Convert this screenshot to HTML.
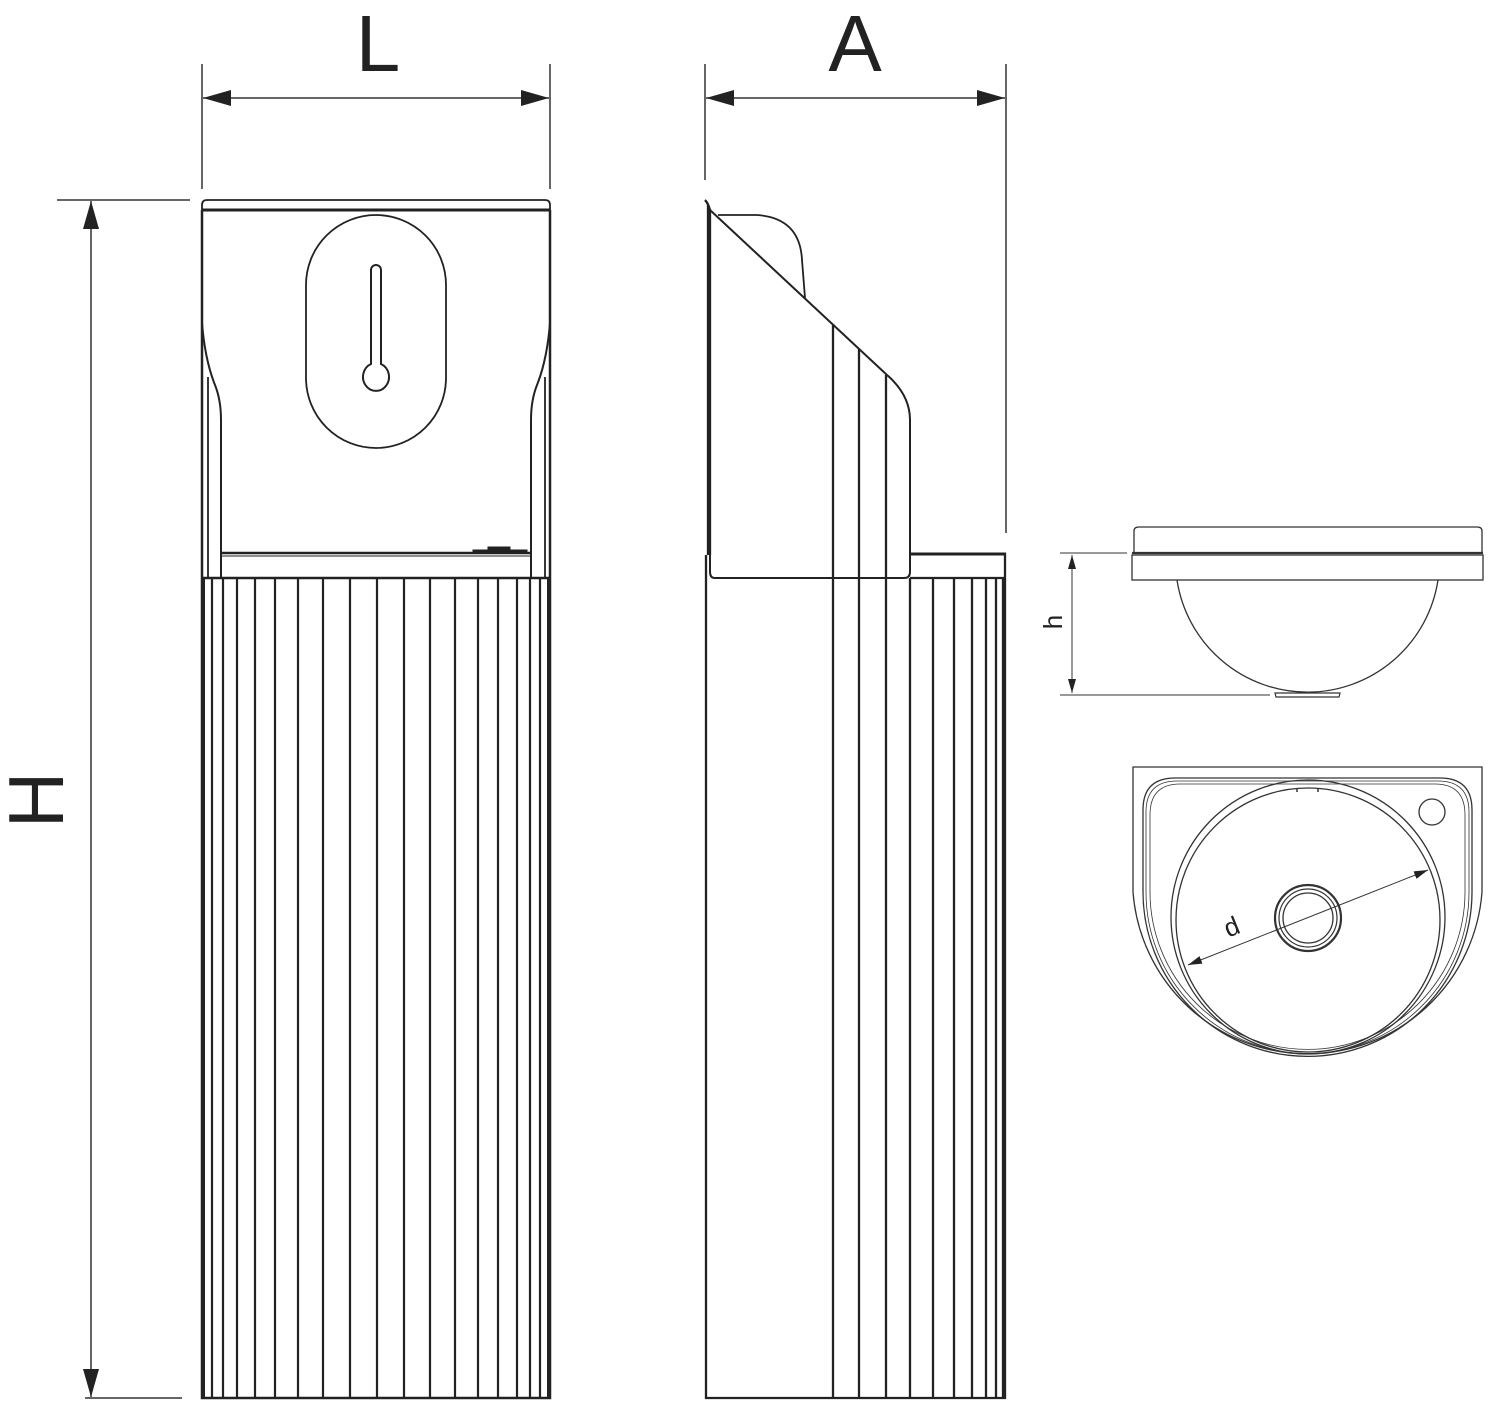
<!DOCTYPE html>
<html><head><meta charset="utf-8"><style>
html,body{margin:0;padding:0;background:#fff;}
svg{display:block;}
text{font-family:"Liberation Sans",sans-serif;fill:#222;}
</style></head><body>
<svg width="1500" height="1417" viewBox="0 0 1500 1417" xmlns="http://www.w3.org/2000/svg">
<defs>
<marker id="ar" viewBox="0 0 28 16" refX="28" refY="8" markerWidth="28" markerHeight="16" markerUnits="userSpaceOnUse" orient="auto-start-reverse"><path d="M0,0 L28,8 L0,16 Z" fill="#222"/></marker>
<marker id="as" viewBox="0 0 14 8" refX="14" refY="4" markerWidth="14" markerHeight="8" markerUnits="userSpaceOnUse" orient="auto-start-reverse"><path d="M0,0 L14,4 L0,8 Z" fill="#222"/></marker>
</defs>
<g stroke="#333" fill="none">
<line x1="202" y1="64" x2="202" y2="189" stroke-width="1.5"/>
<line x1="550" y1="64" x2="550" y2="189" stroke-width="1.5"/>
<line x1="203" y1="98" x2="549" y2="98" stroke-width="1.5" marker-start="url(#ar)" marker-end="url(#ar)"/>
<line x1="705" y1="64" x2="705" y2="180" stroke-width="1.5"/>
<line x1="1006" y1="64" x2="1006" y2="533" stroke-width="1.5"/>
<line x1="706" y1="98" x2="1005" y2="98" stroke-width="1.5" marker-start="url(#ar)" marker-end="url(#ar)"/>
<line x1="57" y1="200" x2="190" y2="200" stroke-width="1.5"/>
<line x1="85" y1="1398" x2="182" y2="1398" stroke-width="1.5"/>
<line x1="91" y1="201" x2="91" y2="1397" stroke-width="1.5" marker-start="url(#ar)" marker-end="url(#ar)"/>

<g stroke="#222" stroke-width="2.5">
<path d="M202,210 L202,205 Q202,200 207,200 L545,200 Q550,200 550,205 L550,210" stroke-width="1.8"/>
<line x1="202" y1="210" x2="550" y2="210" stroke-width="3"/>
<path d="M202,210 L202,1398 L550,1398 L550,210"/>
<path d="M202,323 Q205,360 215,385 Q221,400 221,420 L221,577" stroke-width="2"/>
<path d="M550,323 Q547,360 537,385 Q531,400 531,420 L531,577" stroke-width="2"/>
<line x1="208" y1="377" x2="208" y2="577" stroke-width="1.8"/>
<line x1="545" y1="377" x2="545" y2="577" stroke-width="1.8"/>
<line x1="221" y1="553" x2="531" y2="553" stroke-width="2.5"/>
<line x1="221" y1="556" x2="531" y2="556" stroke-width="1"/>
<path d="M473,553 L473,550 L527,550 L527,553 Z M488,550 L488,547 L510,547 L510,550" fill="#222" stroke-width="1"/>
<line x1="202" y1="578" x2="550" y2="578" stroke-width="2.5"/>
<rect x="306" y="215" width="140" height="233" rx="70" ry="70" stroke-width="1.8"/>
<path d="M371,364 L371,270 A5,5 0 0 1 381,270 L381,364 A13,14 0 1 1 371,364 Z" stroke-width="2"/>
</g>
<g stroke="#222" stroke-width="2.2">
<line x1="212" y1="578" x2="212" y2="1398"/>
<line x1="223" y1="578" x2="223" y2="1398"/>
<line x1="237" y1="578" x2="237" y2="1398"/>
<line x1="255" y1="578" x2="255" y2="1398"/>
<line x1="275" y1="578" x2="275" y2="1398"/>
<line x1="298" y1="578" x2="298" y2="1398"/>
<line x1="323" y1="578" x2="323" y2="1398"/>
<line x1="350" y1="578" x2="350" y2="1398"/>
<line x1="377" y1="578" x2="377" y2="1398"/>
<line x1="404" y1="578" x2="404" y2="1398"/>
<line x1="430" y1="578" x2="430" y2="1398"/>
<line x1="455" y1="578" x2="455" y2="1398"/>
<line x1="478" y1="578" x2="478" y2="1398"/>
<line x1="498" y1="578" x2="498" y2="1398"/>
<line x1="517" y1="578" x2="517" y2="1398"/>
<line x1="530" y1="578" x2="530" y2="1398"/>
<line x1="540" y1="578" x2="540" y2="1398"/>
</g>
<line x1="203" y1="578" x2="203" y2="1398" stroke="#222" stroke-width="4"/>
<line x1="549" y1="578" x2="549" y2="1398" stroke="#222" stroke-width="4"/>

<g stroke="#222" stroke-width="2.3">
<path d="M705,200 Q708,203 710,210 L710,555"/>
<line x1="708" y1="205" x2="708" y2="555"/>
<path d="M706,555 L706,1398 L1005,1398 L1005,554 L911,554"/>
<line x1="911" y1="554" x2="1006" y2="554" stroke-width="3"/>
<line x1="710" y1="210" x2="887" y2="375" stroke-width="2"/>
<path d="M887,375 Q910,395 910,420 L910,572 Q910,578 904,578 L715,578 Q710,578 710,572 L710,555" stroke-width="2"/>
<path d="M718,215 L757,215 Q800,218 802,260 L805,298" stroke-width="1.8"/>
<line x1="833" y1="324" x2="833" y2="1398"/>
<line x1="859" y1="349" x2="859" y2="1398"/>
<line x1="886" y1="375" x2="886" y2="1398"/>
<line x1="910" y1="578" x2="910" y2="1398"/>
<line x1="933" y1="578" x2="933" y2="1398"/>
<line x1="954" y1="578" x2="954" y2="1398"/>
<line x1="972" y1="578" x2="972" y2="1398"/>
<line x1="986" y1="578" x2="986" y2="1398"/>
<line x1="996" y1="578" x2="996" y2="1398"/>
<line x1="1003" y1="578" x2="1003" y2="1398"/>
<line x1="910" y1="578" x2="1005" y2="578"/>
</g>

<g stroke="#333" stroke-width="1.3">
<path d="M1134,553 L1134,531 Q1134,527 1139,527 L1477,527 Q1482,527 1482,531 L1482,553"/>
<line x1="1132" y1="553" x2="1483" y2="553" stroke-width="2.2"/>
<rect x="1132" y="555" width="351" height="25"/>
<path d="M1177,580 A132,132 0 0 0 1438,580"/>
<path d="M1275,693 L1340,693 L1339,697 L1276,697 Z" stroke-width="1.2"/>
<line x1="1060" y1="553" x2="1127" y2="553" stroke-width="1"/>
<line x1="1060" y1="695" x2="1270" y2="695" stroke-width="1"/>
<line x1="1072" y1="555" x2="1072" y2="693" stroke-width="1" marker-start="url(#as)" marker-end="url(#as)"/>
</g>

<g stroke="#333" stroke-width="1.3">
<path d="M1133,892 L1133,767 L1482,767 L1482,892 A175,175 0 0 1 1133,892 Z"/>
<path d="M1143,892 L1143,810 Q1143,778 1175,778 L1440,778 Q1472,778 1472,810 L1472,892 A164.5,164.5 0 0 1 1143,892 Z"/>
<path d="M1146,892 L1146,812 Q1146,781 1177,781 L1438,781 Q1469,781 1469,812 L1469,892 A161.5,161.5 0 0 1 1146,892 Z" stroke-width="0.8"/>
<path d="M1150,892 L1150,815 Q1150,784 1180,784 L1435,784 Q1465,784 1465,815 L1465,892 A157.5,157.5 0 0 1 1150,892 Z" stroke-width="0.8"/>
<circle cx="1308" cy="917" r="137"/>
<circle cx="1308" cy="920" r="132"/>
<circle cx="1308" cy="918" r="33" stroke-width="2.2"/>
<circle cx="1308" cy="918" r="29" stroke-width="1.2"/>
<circle cx="1308" cy="918" r="25"/>
<circle cx="1432" cy="812" r="13"/>
<line x1="1297" y1="788" x2="1297" y2="792" stroke-width="1.5"/>
<line x1="1318" y1="788" x2="1318" y2="792" stroke-width="1.5"/>
<line x1="1188" y1="965" x2="1428" y2="870" stroke-width="1" marker-start="url(#as)" marker-end="url(#as)"/>
</g>
</g>

<text x="378" y="71" font-size="80" text-anchor="middle">L</text>
<text x="855" y="71" font-size="80" text-anchor="middle">A</text>
<text transform="translate(63,800) rotate(-90)" font-size="78" text-anchor="middle">H</text>
<text transform="translate(1062,622) rotate(-90)" font-size="26" text-anchor="middle">h</text>
<text transform="translate(1235,935) rotate(-22)" font-size="26" text-anchor="middle">d</text>
</svg>
</body></html>
